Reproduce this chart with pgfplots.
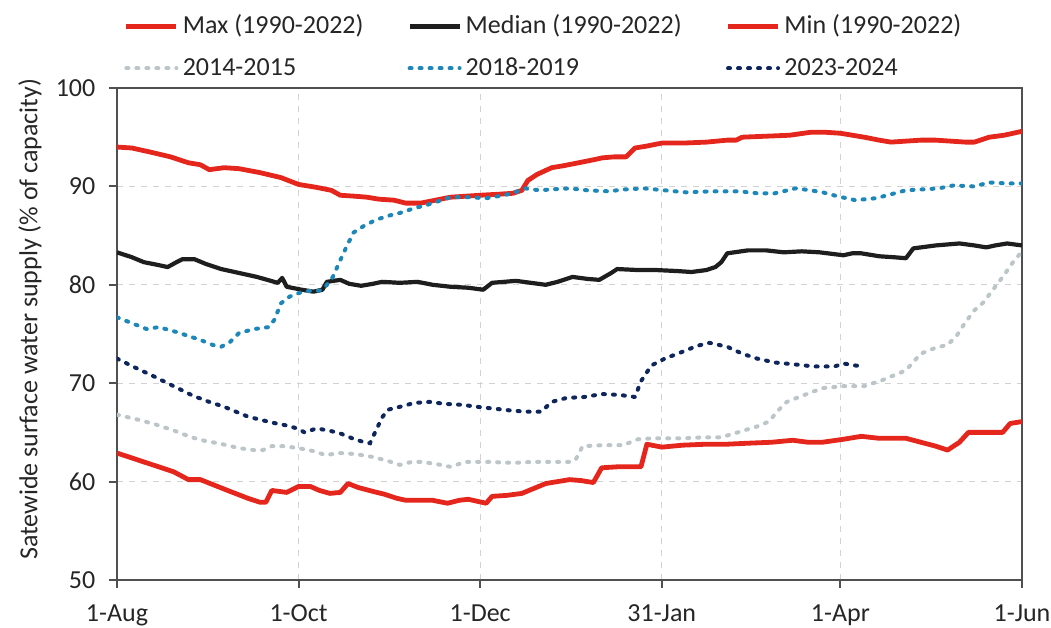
\documentclass[border=0pt]{standalone}
\usepackage{fontspec}
\setmainfont{Carlito}
\usepackage{pgfplots}
\pgfplotsset{compat=1.18}
\definecolor{cRed}{RGB}{228,38,28}
\definecolor{cBlack}{RGB}{30,30,30}
\definecolor{cGray}{RGB}{188,197,200}
\definecolor{cBlue}{RGB}{30,135,185}
\definecolor{cNavy}{RGB}{14,38,92}
\definecolor{gridgray}{RGB}{210,210,210}
\definecolor{axgray}{RGB}{80,80,80}

\pgfplotstableread{
d v
0 94.0
5 93.9
11 93.5
18 93.0
24 92.4
28 92.2
31 91.7
36 91.9
41 91.8
48 91.4
55 90.9
61 90.2
67 89.9
72 89.6
75 89.1
80 89.0
84 88.9
88 88.7
93 88.6
97 88.3
102 88.3
107 88.6
112 88.9
117 89.0
122 89.1
128 89.2
133 89.3
136 89.6
138 90.6
141 91.2
146 91.9
150 92.1
155 92.4
160 92.7
163 92.9
167 93.0
171 93.0
174 93.9
178 94.1
183 94.4
190 94.4
198 94.5
205 94.7
208 94.7
210 95.0
218 95.1
226 95.2
233 95.5
238 95.5
243 95.4
247 95.2
251 95.0
256 94.7
260 94.5
265 94.6
270 94.7
275 94.7
280 94.6
285 94.5
288 94.5
293 95.0
298 95.2
304 95.6
}\tmax

\pgfplotstableread{
d v
0 83.3
5 82.8
9 82.3
14 82.0
17 81.8
20 82.3
22 82.6
26 82.6
30 82.1
35 81.6
41 81.2
47 80.8
54 80.2
55.5 80.7
57 79.8
62 79.5
66 79.3
69 79.5
70.5 80.3
75 80.5
78 80.1
82 79.9
86 80.1
89 80.3
95 80.2
101 80.3
106 80.0
112 79.8
118 79.7
123 79.5
126 80.2
130 80.3
134 80.4
139 80.2
144 80.0
148 80.3
153 80.8
158 80.6
162 80.5
166 81.2
168 81.6
175 81.5
181 81.5
188 81.4
193 81.3
198 81.5
201 81.8
203 82.3
205 83.2
212 83.5
218 83.5
224 83.3
230 83.4
236 83.3
244 83.0
247 83.2
250 83.2
256 82.9
261 82.8
265 82.7
267.5 83.7
275 84.0
283 84.2
288 84.0
292 83.8
295 84.0
299 84.2
304 84.0
}\tmed

\pgfplotstableread{
d v
0 62.9
5 62.4
10 61.9
14 61.5
19 61.0
24 60.2
28 60.2
33 59.6
38 59.0
44 58.3
48 57.9
50 57.9
52 59.1
57 58.9
61 59.5
65 59.5
68 59.1
71.5 58.8
75 58.9
77.6 59.8
81 59.4
86 59.0
90 58.7
94 58.3
97 58.1
102 58.1
106 58.1
111 57.8
115 58.1
118 58.2
124 57.8
126 58.5
131 58.6
136 58.8
140 59.3
144 59.8
148 60.0
152 60.2
156 60.1
160 59.9
162.8 61.4
168 61.5
172 61.5
176 61.5
178 63.8
183 63.5
190 63.7
198 63.8
205 63.8
212 63.9
220 64.0
227 64.2
232 64.0
237 64.0
244 64.3
250 64.6
256 64.4
265 64.4
270 64.0
275 63.6
279 63.2
283 64.0
286 65.0
292 65.0
297.5 65.0
300 65.9
304 66.1
}\tmin

\pgfplotstableread{
d v
0 66.8
7 66.3
13 65.8
19 65.2
25 64.5
30 64.1
34 63.9
41 63.4
46 63.2
49 63.2
52 63.6
56 63.6
61 63.4
66 63.1
70 62.7
75 62.9
80 62.8
86 62.5
91 62.1
95 61.7
99 62.0
102 62.0
107 61.8
112 61.5
117 62.0
125 62.0
133 61.9
140 62.0
145 62.0
152 62.0
154 62.2
156.4 63.6
163 63.7
170 63.7
175 64.3
180 64.4
190 64.4
197 64.5
203 64.5
209.6 65.1
215 65.6
219 66.1
222 67.2
225 68.1
230 68.7
237 69.5
244 69.7
251 69.7
257 70.3
261 70.8
265 71.3
270 73.0
275 73.6
279 73.9
282 74.8
285 76.2
288 77.4
291 78.2
294 79.4
297.5 80.8
301 82.3
304 83.4
}\tfourteen

\pgfplotstableread{
d v
0 76.7
5 76.1
10 75.5
14 75.7
20 75.2
24 74.8
28 74.4
32 73.9
35 73.7
38 74.2
41 75.1
46 75.5
51 75.7
53 76.5
55 78.1
58 78.8
61.5 79.2
65 79.4
68 79.4
70 79.8
72.5 80.8
75 82.5
77 83.8
79.4 85.3
83 86.0
87 86.6
91 87.0
95 87.3
100 87.8
104 88.1
108 88.5
112 88.9
118 88.9
124 88.8
128 89.0
133 89.3
137 89.8
142 89.6
146 89.7
152 89.8
158 89.6
165 89.5
171 89.7
177 89.8
184 89.6
191 89.4
200 89.5
209 89.5
215 89.3
221 89.3
228 89.8
233 89.6
237 89.4
242 89.0
248 88.6
255 88.8
260 89.2
265 89.6
271 89.7
276 89.8
281 90.1
288 90.0
293 90.4
299 90.3
304 90.3
}\teighteen

\pgfplotstableread{
d v
0 72.5
6 71.6
13 70.6
19 69.7
25 68.8
30 68.2
36 67.6
40 67.1
44 66.6
48 66.3
52 66.0
57 65.7
60.5 65.4
63 65.0
67 65.4
71 65.2
75 64.9
79 64.4
83 64.0
85 63.9
87 65.2
89 66.5
91 67.3
95 67.6
100 68.0
105 68.1
110 67.9
116 67.8
121 67.6
127 67.4
133 67.2
138 67.1
142.5 67.1
146 68.1
151 68.5
157 68.6
163 68.9
169 68.8
174 68.6
176 70.2
179.5 71.8
184 72.5
190 73.2
195 73.8
199 74.1
205 73.7
210 73.0
215 72.5
221 72.1
228 71.9
234 71.7
241 71.7
244 72.0
248 71.8
251 71.7
}\ttwentythree

\begin{document}
\begin{tikzpicture}
\begin{axis}[
  scale only axis, width=452.5pt, height=246pt,
  xmin=0, xmax=304, ymin=50, ymax=100,
  xtick={0,61,122,183,243,304},
  xticklabels={1-Aug,1-Oct,1-Dec,31-Jan,1-Apr,1-Jun},
  ytick={50,60,70,80,90,100},
  xtick pos=lower, ytick pos=left,
  tick align=outside, major tick length=3.8pt,
  grid=major,
  major grid style={dash pattern=on 3pt off 3pt, draw=gridgray, line width=0.6pt},
  axis line style={draw=axgray, line width=1pt},
  tick style={draw=axgray, line width=1pt},
  ticklabel style={font=\fontsize{13}{15}\selectfont, text=black!85},
  xticklabel style={yshift=-5pt},
  yticklabel style={xshift=-3.5pt},
  /pgf/number format/assume math mode=true,
  ylabel={Satewide surface water supply (\% of capacity)},
  ylabel style={at={(axis description cs:-0.0961,0.53)}, anchor=center, font=\fontsize{13}{15}\selectfont, text=black!85},
  legend columns=3,
  legend cell align=left,
  legend image code/.code={\draw[#1] (0pt,0pt) -- (25pt,0pt);},
  legend style={at={(axis description cs:0.0077,1.0823)}, anchor=west,
    draw=none, fill=none, inner sep=0pt, outer sep=0pt,
    font=\fontsize{13}{15}\selectfont, text=black!85,
    row sep=10.5pt,
    nodes={inner sep=0pt},
    /tikz/every odd column/.append style={column sep=2pt},
    /tikz/every even column/.append style={column sep=22pt, text height=9pt, text depth=3pt}},
]
\addplot[draw=cRed, line width=2.4pt, line join=round] table[x=d,y=v] {\tmax};
\addlegendentry{Max (1990-2022)}
\addplot[draw=cBlack, line width=2.1pt, line join=round] table[x=d,y=v] {\tmed};
\addlegendentry{Median (1990-2022)}
\addplot[draw=cRed, line width=2.4pt, line join=round] table[x=d,y=v] {\tmin};
\addlegendentry{Min (1990-2022)}
\addplot[draw=cGray, line width=2pt, line cap=round, dash pattern=on 1pt off 4pt] table[x=d,y=v] {\tfourteen};
\addlegendentry{2014-2015}
\addplot[draw=cBlue, line width=2pt, line cap=round, dash pattern=on 1pt off 4pt] table[x=d,y=v] {\teighteen};
\addlegendentry{2018-2019}
\addplot[draw=cNavy, line width=2pt, line cap=round, dash pattern=on 1pt off 4pt] table[x=d,y=v] {\ttwentythree};
\addlegendentry{2023-2024}
\coordinate (bl) at (rel axis cs:0,0);
\coordinate (tr) at (rel axis cs:1,1);
\end{axis}
\pgfresetboundingbox
\path[use as bounding box] ([xshift=-58.5pt,yshift=-24pt]bl) rectangle ([xshift=14.5pt,yshift=44pt]tr);
\end{tikzpicture}
\end{document}
